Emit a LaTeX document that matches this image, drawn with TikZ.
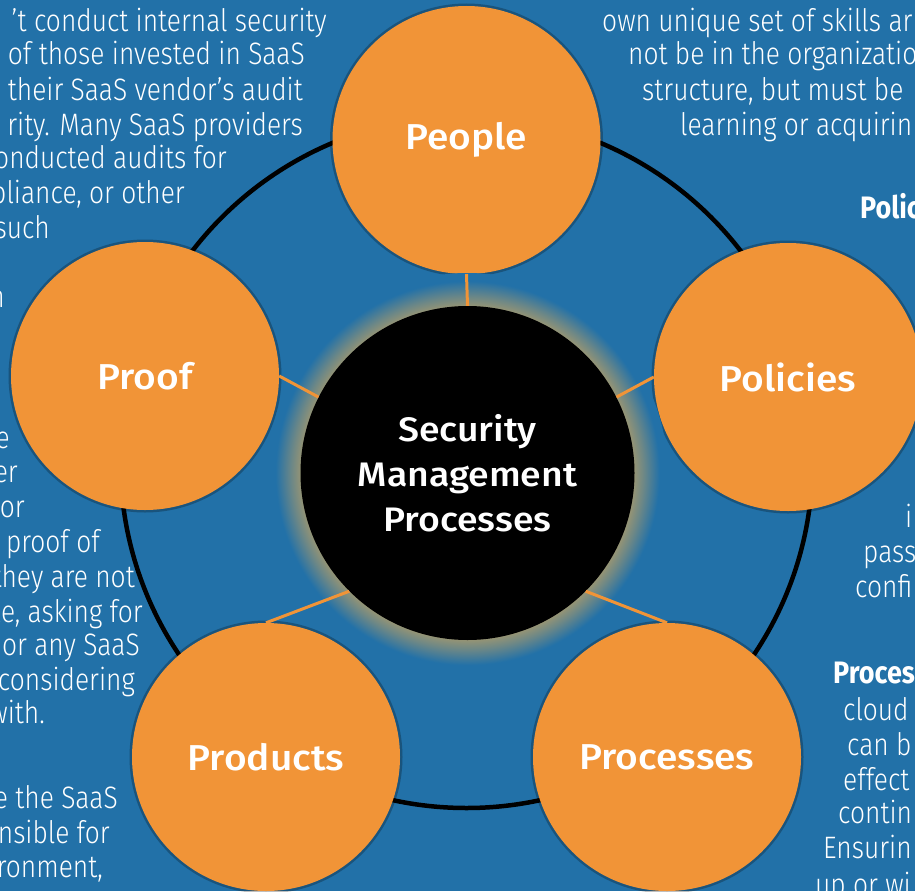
\documentclass[tikz,border=0pt]{standalone}
\usepackage{fontspec}
\setmainfont{Fira Sans}
\newfontfamily\bodyfont{Fira Sans Light}[FakeStretch=0.85]
\newfontfamily\headfont{Fira Sans}[FakeStretch=0.87]
\newfontfamily\labelfont{Fira Sans Medium}[FakeStretch=1.08]
\newfontfamily\hubfont{Fira Sans Medium}[FakeStretch=1.1]

\definecolor{bluebg}{RGB}{34,113,168}
\definecolor{orangefill}{RGB}{241,148,55}
\definecolor{glowc}{RGB}{150,148,116}

\pgfdeclareradialshading{hubglow}{\pgfpoint{0bp}{0bp}}{color(0bp)=(glowc); color(20.8bp)=(glowc); color(22bp)=(glowc!65!bluebg); color(24bp)=(bluebg); color(50bp)=(bluebg)}

\tikzset{
  petal/.style={circle,fill=orangefill,minimum size=268pt,inner sep=0pt,text=white,
    font=\labelfont\fontsize{36}{40}\selectfont},
  hubnode/.style={circle,fill=black,minimum size=334pt,inner sep=0pt,text=white,align=center,
    font=\hubfont\fontsize{34}{45}\selectfont},
  spoke/.style={orangefill,line width=3pt},
  ring/.style={black,line width=4.5pt},
  bodytext/.style={text=white,inner sep=0pt,font=\bodyfont\fontsize{31}{35}\selectfont},
  headtext/.style={text=white,inner sep=0pt,anchor=base west,font=\headfont\bfseries\fontsize{31}{35}\selectfont}
}

\begin{document}
\begin{tikzpicture}[x=1pt,y=-1pt]
  \useasboundingbox (0,0) rectangle (915,891);
  \clip (0,0) rectangle (915,891);
  \fill[bluebg] (0,0) rectangle (915,891);
  \draw[ring] (466.5,462) circle (346);
  % the five petals
  \foreach \name/\x/\y/\lbl in {people/466.5/140/People, proof/145/376/Proof,
      policies/788/377/Policies, products/266/757/Products, processes/667/757/Processes}{
    \fill[black,opacity=0.25] (\x,\y) circle (136.5);
    \node[petal] (\name) at (\x,\y) {\lbl};
  }
  % centre
  \shade[shading=hubglow] (467.5,473) circle (200);
  \node[hubnode] (hub) at (467.5,473) {Security\\Management\\Processes};
  \draw[spoke] (people.south) -- (hub.north);
  \draw[spoke] (proof.east) -- (hub.153);
  \draw[spoke] (policies.west) -- (hub.27);
  \draw[spoke] (products.north) -- (hub.225);
  \draw[spoke] (processes.north) -- (hub.315);
  % text around the diagram
  \foreach \y/\xe/\t [count=\i] in {32/327/{’t conduct internal security},
      65/305/{of those invested in SaaS}, 100/303/{their SaaS vendor’s audit},
      135/303/{rity. Many SaaS providers}, 168/227/{onducted audits for},
      203/185/{pliance, or other}, 238/50/{such}, 307/5/{n}, 448/10/{e},
      482/18/{er}, 517/25/{or}, 552/100/{proof of}, 587/135/{they are not},
      622/143/{le, asking for}, 655/140/{or any SaaS}, 690/135/{considering},
      723/45/{with.}, 808/118/{e the SaaS}, 843/110/{nsible for}, 877/103/{ronment,}}
    \node[bodytext,anchor=base east] (lt\i) at (\xe,\y) {\t};
  \foreach \y/\xs/\t [count=\i] in {32/602/{own unique set of skills ar},
      65/628/{not be in the organizatio}, 100/642/{structure, but must be},
      135/680/{learning or acquirin}, 527/905/{i}, 562/863/{pass}, 597/855/{confi},
      720/843/{cloud}, 755/847/{can b}, 790/843/{effect}, 823/838/{contin},
      858/823/{Ensurin}, 895/815/{up or wi}}
    \node[bodytext,anchor=base west] (rt\i) at (\xs,\y) {\t};
  \node[headtext] (polhead) at (860,218) {Polic};
  \node[headtext] (prohead) at (833,683) {Proces};
\end{tikzpicture}
\end{document}
